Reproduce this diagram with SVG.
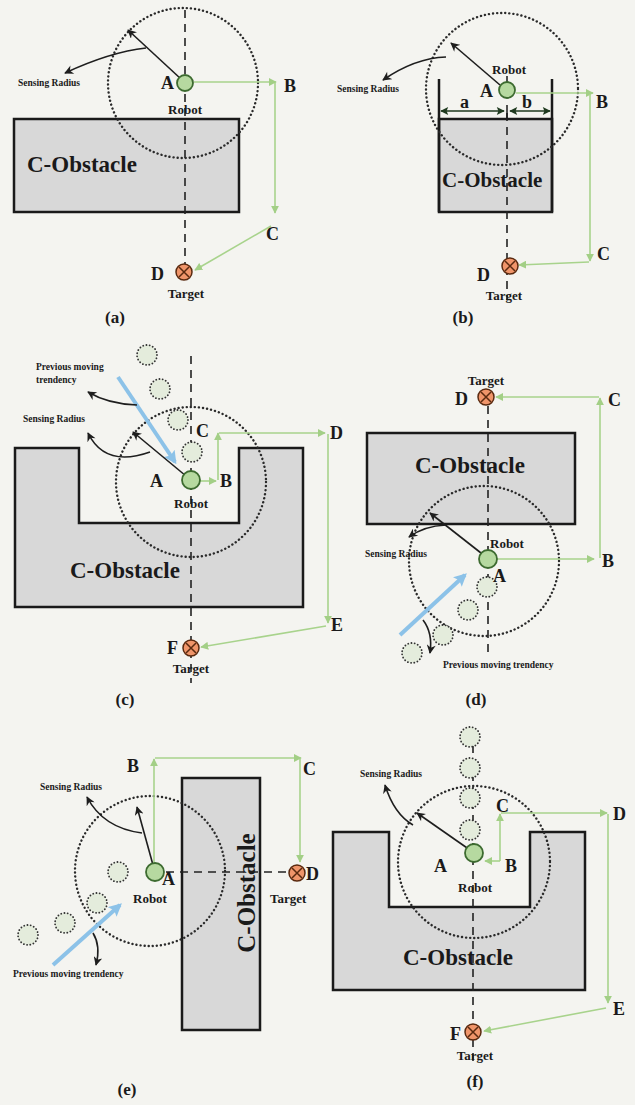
<svg xmlns="http://www.w3.org/2000/svg" width="635" height="1105" viewBox="0 0 635 1105">
<defs>
<marker id="arrK" viewBox="0 0 10 10" refX="9" refY="5" markerWidth="10" markerHeight="9" markerUnits="userSpaceOnUse" orient="auto"><path d="M0,0 L10,5 L0,10 L3,5 z" fill="#1e1e1e"/></marker>
<marker id="arrG" viewBox="0 0 10 10" refX="9" refY="5" markerWidth="8" markerHeight="8" markerUnits="userSpaceOnUse" orient="auto"><path d="M0,0 L10,5 L0,10 z" fill="#a3cf86"/></marker>
<marker id="arrB" viewBox="0 0 10 10" refX="8" refY="5" markerWidth="13" markerHeight="13" markerUnits="userSpaceOnUse" orient="auto"><path d="M0,0 L10,5 L0,10 L2,5 z" fill="#8cc2e8"/></marker>
<marker id="arrD" viewBox="0 0 10 10" refX="9" refY="5" markerWidth="10" markerHeight="8" markerUnits="userSpaceOnUse" orient="auto-start-reverse"><path d="M0,0 L10,5 L0,10 L2,5 z" fill="#1f3a1f"/></marker>
<g id="tgt">
<circle r="8" fill="#f0956a" stroke="#5a2a10" stroke-width="1.5"/>
<path d="M-5,-5 L5,5 M5,-5 L-5,5" stroke="#5a2a10" stroke-width="1.5"/>
</g>
</defs>
<style>
.bg{fill:#f4f4f0}
.obs{fill:#d8d8d8;stroke:#1a1a1a;stroke-width:2.5}
.wall{stroke:#1a1a1a;stroke-width:2.5;fill:none}
.robot{fill:#b6d9a0;stroke:#3d6b30;stroke-width:1.8}
.ghost{fill:#e4ecdc;stroke:#333;stroke-width:1.8;stroke-dasharray:0.1 3.2;stroke-linecap:round}
.sense{fill:none;stroke:#2a2a2a;stroke-width:2.4;stroke-dasharray:0.1 4;stroke-linecap:round}
.dash{stroke:#222;stroke-width:1.6;stroke-dasharray:8 6;fill:none}
.gp{stroke:#a8d38c;stroke-width:1.6;fill:none;marker-end:url(#arrG)}
.ka{stroke:#1e1e1e;stroke-width:1.6;fill:none;marker-end:url(#arrK)}
.bl{stroke:#8cc2e8;stroke-width:4;fill:none;marker-end:url(#arrB)}
.dim{stroke:#1f3a1f;stroke-width:1.6;fill:none;marker-start:url(#arrD);marker-end:url(#arrD)}
text{font-family:"Liberation Serif","Times New Roman",serif;font-weight:bold;fill:#1a1a1a}
.lbl{font-size:18px}
.rb{font-size:13px}
.sm{font-size:9.5px}
.ob{font-size:23px}
.cap{font-size:17px;font-weight:bold}
.mid{text-anchor:middle}
</style>
<rect class="bg" x="0" y="0" width="635" height="1105"/>

<!-- ===== Panel (a) ===== -->
<g id="panel-a">
<g id="a-obstacle"><rect class="obs" x="14" y="119" width="225" height="93"/><text class="ob" x="27" y="172">C-Obstacle</text></g>
<g id="a-connectors">
<line class="dash" x1="185" y1="10" x2="185" y2="264"/>
<circle class="sense" cx="183" cy="83" r="75"/>
<line class="gp" x1="194" y1="82" x2="276" y2="82"/>
<line class="gp" x1="275" y1="83" x2="275" y2="213"/>
<line class="gp" x1="271" y1="226" x2="195" y2="270"/>
<line class="ka" x1="181" y1="79" x2="128" y2="30"/>
<path class="ka" d="M146,48 Q110,52 65,73"/>
</g>
<g id="a-robot"><circle class="robot" cx="185" cy="83" r="8"/><text class="lbl" x="161" y="89">A</text><text class="rb mid" x="185" y="114">Robot</text></g>
<g id="a-B"><text class="lbl" x="284" y="92">B</text></g>
<g id="a-C"><text class="lbl" x="266" y="240">C</text></g>
<g id="a-target"><use href="#tgt" x="184" y="272"/><text class="lbl" x="151" y="280">D</text><text class="rb mid" x="186" y="298">Target</text></g>
<text class="sm" x="18" y="86">Sensing Radius</text>
<text class="cap mid" x="115" y="323">(a)</text>
</g>

<!-- ===== Panel (b) ===== -->
<g id="panel-b">
<g id="b-obstacle"><rect class="obs" x="439" y="119" width="113" height="93"/><path class="wall" d="M439,79 V212 M552,79 V212"/><text class="ob" style="font-size:21px" x="442" y="187">C-Obstacle</text></g>
<g id="b-connectors">
<line class="dash" x1="507" y1="113" x2="507" y2="300"/>
<line stroke="#1a1a1a" stroke-width="1.5" x1="507" y1="105" x2="507" y2="119"/>
<circle class="sense" cx="502" cy="89" r="76"/>
<line class="dim" x1="441" y1="111" x2="504" y2="111"/>
<line class="dim" x1="510" y1="111" x2="550" y2="111"/>
<line class="gp" x1="516" y1="93" x2="593" y2="93"/>
<line class="gp" x1="590" y1="94" x2="590" y2="261"/>
<line class="gp" x1="589" y1="262" x2="519" y2="265"/>
<line class="ka" x1="500" y1="85" x2="451" y2="43"/>
<path class="ka" d="M446,57 Q415,58 383,80"/>
<line stroke="#1a1a1a" stroke-width="1.5" x1="507" y1="82" x2="507" y2="76"/>
</g>
<g id="b-robot"><circle class="robot" cx="507" cy="90" r="8"/><text class="lbl" x="480" y="97">A</text><text class="rb mid" x="509" y="74">Robot</text></g>
<text class="lbl" x="460" y="108">a</text>
<text class="lbl" x="522" y="108">b</text>
<g id="b-B"><text class="lbl" x="596" y="108">B</text></g>
<g id="b-C"><text class="lbl" x="597" y="260">C</text></g>
<g id="b-target"><use href="#tgt" x="510" y="266"/><text class="lbl" x="477" y="281">D</text><text class="rb mid" x="504" y="300">Target</text></g>
<text class="sm" x="337" y="92">Sensing Radius</text>
<text class="cap mid" x="463" y="323">(b)</text>
</g>

<!-- ===== Panel (c) ===== -->
<g id="panel-c">
<g id="c-obstacle"><path class="obs" d="M15,448 H79 V523 H239 V448 H303 V607 H15 Z"/><text class="ob" x="70" y="578">C-Obstacle</text></g>
<g id="c-connectors">
<line class="dash" x1="191" y1="356" x2="191" y2="683"/>
<circle class="ghost" cx="147" cy="355" r="10"/>
<circle class="ghost" cx="160" cy="389" r="10"/>
<circle class="ghost" cx="178" cy="420" r="10"/>
<circle class="ghost" cx="192" cy="452" r="10"/>
<circle class="sense" cx="191" cy="482" r="75"/>
<line class="bl" x1="118" y1="377" x2="175" y2="462"/>
<path class="ka" d="M137,405 Q108,404 88,392"/>
<line class="ka" x1="186" y1="476" x2="133" y2="432"/>
<path class="ka" d="M150,452 Q105,468 88,433"/>
<line class="gp" x1="200" y1="481" x2="216" y2="481"/>
<line class="gp" x1="218" y1="480" x2="218" y2="433"/>
<line class="gp" x1="219" y1="433" x2="325" y2="433"/>
<line class="gp" x1="328" y1="434" x2="328" y2="623"/>
<line class="gp" x1="326" y1="626" x2="201" y2="647"/>
</g>
<g id="c-robot"><circle class="robot" cx="191" cy="480" r="9"/><text class="lbl" x="150" y="487">A</text><text class="rb mid" x="191" y="508">Robot</text></g>
<g id="c-B"><text class="lbl" x="220" y="487">B</text></g>
<g id="c-C"><text class="lbl" x="196" y="437">C</text></g>
<g id="c-D"><text class="lbl" x="330" y="439">D</text></g>
<g id="c-E"><text class="lbl" x="331" y="631">E</text></g>
<g id="c-target"><use href="#tgt" x="191" y="648"/><text class="lbl" x="167" y="654">F</text><text class="rb mid" x="191" y="673">Target</text></g>
<text class="sm" x="36" y="370">Previous moving</text>
<text class="sm" x="36" y="383">trendency</text>
<text class="sm" x="23" y="422">Sensing Radius</text>
<text class="cap mid" x="125" y="705">(c)</text>
</g>

<!-- ===== Panel (d) ===== -->
<g id="panel-d">
<g id="d-obstacle"><rect class="obs" x="367" y="433" width="208" height="91"/><text class="ob" x="415" y="473">C-Obstacle</text></g>
<g id="d-connectors">
<line class="dash" x1="488" y1="406" x2="488" y2="653"/>
<circle class="sense" cx="484" cy="561" r="75"/>
<circle class="ghost" cx="487" cy="587" r="10"/>
<circle class="ghost" cx="468" cy="610" r="10"/>
<circle class="ghost" cx="443" cy="635" r="10"/>
<circle class="ghost" cx="412" cy="653" r="10"/>
<line class="bl" x1="400" y1="635" x2="465" y2="575"/>
<path class="ka" d="M423,620 Q433,633 430,653"/>
<line class="ka" x1="481" y1="553" x2="430" y2="513"/>
<path class="ka" d="M446,525 Q424,526 409,537"/>
<line class="gp" x1="497" y1="559" x2="594" y2="559"/>
<line class="gp" x1="600" y1="558" x2="600" y2="398"/>
<line class="gp" x1="599" y1="397" x2="496" y2="397"/>
</g>
<g id="d-robot"><circle class="robot" cx="488" cy="559" r="9"/><text class="lbl" x="493" y="582">A</text><text class="rb" x="490" y="548">Robot</text></g>
<g id="d-B"><text class="lbl" x="602" y="567">B</text></g>
<g id="d-C"><text class="lbl" x="608" y="406">C</text></g>
<g id="d-target"><use href="#tgt" x="486" y="397"/><text class="lbl" x="455" y="405">D</text><text class="rb mid" x="486" y="385">Target</text></g>
<text class="sm" x="365" y="557">Sensing Radius</text>
<text class="sm" x="443" y="668">Previous moving trendency</text>
<text class="cap mid" x="476" y="705">(d)</text>
</g>

<!-- ===== Panel (e) ===== -->
<g id="panel-e">
<g id="e-obstacle"><rect class="obs" x="182" y="778" width="78" height="252"/><text class="ob mid" style="font-size:25px" transform="translate(255,893) rotate(-90)" x="0" y="0">C-Obstacle</text></g>
<g id="e-connectors">
<line class="dash" x1="166" y1="872" x2="288" y2="872"/>
<circle class="sense" cx="150" cy="871" r="75"/>
<circle class="ghost" cx="118" cy="872" r="10"/>
<circle class="ghost" cx="97" cy="903" r="10"/>
<circle class="ghost" cx="65" cy="923" r="10"/>
<circle class="ghost" cx="28" cy="935" r="10"/>
<line class="bl" x1="53" y1="965" x2="120" y2="905"/>
<path class="ka" d="M93,933 Q101,946 96,965"/>
<line class="ka" x1="153" y1="865" x2="137" y2="807"/>
<path class="ka" d="M142,833 Q103,828 87,797"/>
<line class="gp" x1="154" y1="862" x2="154" y2="759"/>
<line class="gp" x1="155" y1="758" x2="301" y2="758"/>
<line class="gp" x1="300" y1="759" x2="300" y2="862"/>
</g>
<g id="e-robot"><circle class="robot" cx="155" cy="872" r="9"/><text class="lbl" x="162" y="885">A</text><text class="rb" x="133" y="903">Robot</text></g>
<g id="e-B"><text class="lbl" x="127" y="772">B</text></g>
<g id="e-C"><text class="lbl" x="303" y="775">C</text></g>
<g id="e-target"><use href="#tgt" x="297" y="873"/><text class="lbl" x="306" y="880">D</text><text class="rb" x="270" y="903">Target</text></g>
<text class="sm" x="40" y="790">Sensing Radius</text>
<text class="sm" x="13" y="977">Previous moving trendency</text>
<text class="cap mid" x="127" y="1095">(e)</text>
</g>

<!-- ===== Panel (f) ===== -->
<g id="panel-f">
<g id="f-obstacle"><path class="obs" d="M333,832 H389 V907 H530 V832 H585 V990 H333 Z"/><text class="ob" x="403" y="965">C-Obstacle</text></g>
<g id="f-connectors">
<line class="dash" x1="473" y1="745" x2="473" y2="1062"/>
<circle class="ghost" cx="470" cy="737" r="10"/>
<circle class="ghost" cx="470" cy="768" r="10"/>
<circle class="ghost" cx="470" cy="798" r="10"/>
<circle class="ghost" cx="470" cy="830" r="10"/>
<circle class="sense" cx="474" cy="862" r="76"/>
<line class="ka" x1="470" y1="850" x2="417" y2="813"/>
<path class="ka" d="M413,825 Q394,814 385,785"/>
<line class="gp" x1="500" y1="861" x2="485" y2="861"/>
<line class="gp" x1="500" y1="861" x2="500" y2="814"/>
<line class="gp" x1="501" y1="813" x2="607" y2="813"/>
<line class="gp" x1="608" y1="814" x2="608" y2="1003"/>
<line class="gp" x1="606" y1="1008" x2="484" y2="1031"/>
</g>
<g id="f-robot"><circle class="robot" cx="474" cy="853" r="9"/><text class="lbl" x="434" y="872">A</text><text class="rb mid" x="475" y="892">Robot</text></g>
<g id="f-B"><text class="lbl" x="505" y="872">B</text></g>
<g id="f-C"><text class="lbl" x="496" y="812">C</text></g>
<g id="f-D"><text class="lbl" x="613" y="820">D</text></g>
<g id="f-E"><text class="lbl" x="613" y="1015">E</text></g>
<g id="f-target"><use href="#tgt" x="473" y="1032"/><text class="lbl" x="450" y="1040">F</text><text class="rb mid" x="475" y="1060">Target</text></g>
<text class="sm" x="360" y="777">Sensing Radius</text>
<text class="cap mid" x="475" y="1087">(f)</text>
</g>
</svg>
